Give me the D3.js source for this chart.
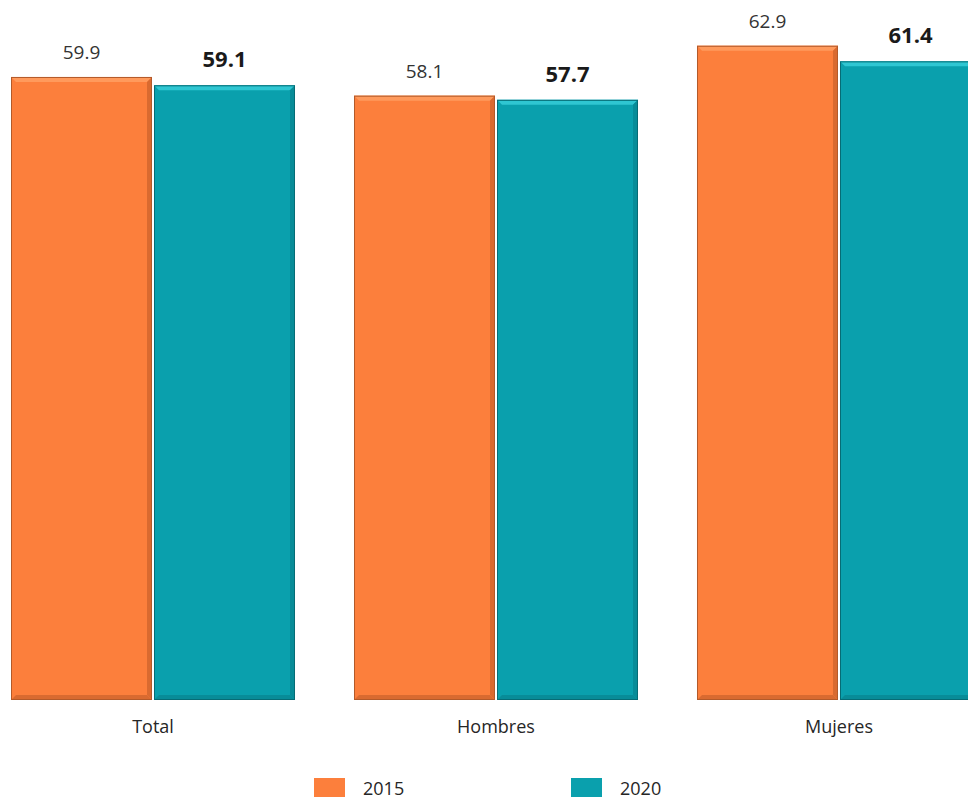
<!DOCTYPE html>
<html><head><meta charset="utf-8">
<script src="https://cdn.jsdelivr.net/npm/d3@7"></script>
<style>html,body{margin:0;padding:0;background:#fff;overflow:hidden}</style>
</head><body><svg id="c" width="968" height="800"></svg>
<script>
const categories = ["Total", "Hombres", "Mujeres"];
const years = ["2015", "2020"];
const values2015 = [59.9, 58.1, 62.9];
const values2020 = [59.1, 57.7, 61.4];
const colors = {"2015": {main:"#FC7F3C", light:"#FF9A5C", dark:"#D96A30", line:"#B35A2A"},
                "2020": {main:"#0AA0AD", light:"#2FC6D2", dark:"#088C98", line:"#066C75"}};

const svg = d3.select("#c");
const font = "'Open Sans', 'Segoe UI', sans-serif";
const x0 = d3.scaleBand().domain(categories).range([11, 981]).paddingInner(0.172).paddingOuter(0);
const x1 = d3.scaleBand().domain(years).range([0, x0.bandwidth()]).padding(0);
const y = d3.scaleLinear().domain([0, 67.3]).range([700, 0]);

const data = [];
categories.forEach((c, i) => {
  data.push({cat: c, year: "2015", v: values2015[i]});
  data.push({cat: c, year: "2020", v: values2020[i]});
});

const b = 5;
const g = svg.append("g");
data.forEach(d => {
  const xl = x0(d.cat) + x1(d.year) + (d.year === "2020" ? 1 : 0);
  const w = x1.bandwidth() - 1;
  const yt = y(d.v), yb = y(0);
  const col = colors[d.year];
  const bg = g.append("g");
  bg.append("rect").attr("x", xl).attr("y", yt).attr("width", w).attr("height", yb - yt).attr("fill", col.main);
  bg.append("polygon").attr("points", [[xl,yt],[xl+w,yt],[xl+w-b,yt+b],[xl+b,yt+b]].join(" ")).attr("fill", col.light);
  bg.append("polygon").attr("points", [[xl+w,yt],[xl+w,yb],[xl+w-b,yb-b],[xl+w-b,yt+b]].join(" ")).attr("fill", col.dark);
  bg.append("polygon").attr("points", [[xl,yb],[xl+w,yb],[xl+w-b,yb-b],[xl+b,yb-b]].join(" ")).attr("fill", col.dark);
  bg.append("rect").attr("x", xl+0.5).attr("y", yt+0.5).attr("width", w-1).attr("height", yb - yt - 1)
    .attr("fill", "none").attr("stroke", col.line).attr("stroke-width", 1);
  const bold = d.year === "2020";
  g.append("text").attr("x", xl + w/2).attr("y", yt - 18)
    .attr("text-anchor", "middle").attr("font-family", font)
    .attr("font-size", bold ? 22 : 19).attr("font-weight", bold ? "bold" : "normal")
    .attr("fill", bold ? "#1a1a1a" : "#333").text(d.v.toFixed(1));
});

categories.forEach(c => {
  svg.append("text").attr("x", x0(c) + x0.bandwidth()/2).attr("y", 733)
    .attr("text-anchor", "middle").attr("font-family", font).attr("font-size", 18).attr("fill", "#262626").text(c);
});

const legendX = {"2015": 314, "2020": 571};
years.forEach(yr => {
  svg.append("rect").attr("x", legendX[yr]).attr("y", 778).attr("width", 31).attr("height", 19).attr("fill", colors[yr].main);
  svg.append("text").attr("x", legendX[yr] + 49).attr("y", 795).attr("font-family", font).attr("font-size", 18).attr("fill", "#262626").text(yr);
});
</script></body></html>
